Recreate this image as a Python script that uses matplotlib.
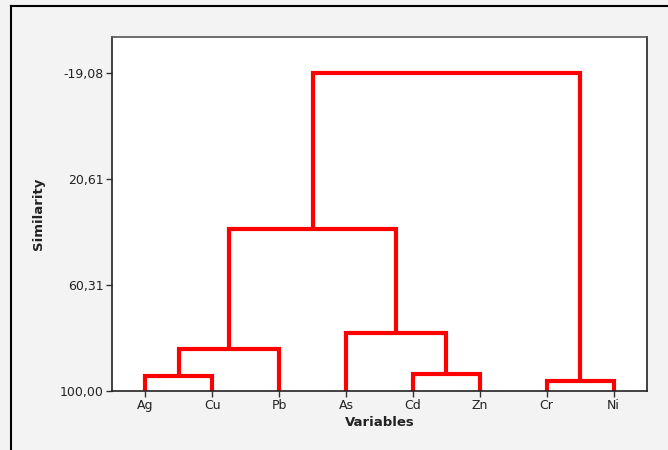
import matplotlib
matplotlib.use("Agg")
import matplotlib.pyplot as plt
from matplotlib.lines import Line2D

# Data
leaves = ["Ag", "Cu", "Pb", "As", "Cd", "Zn", "Cr", "Ni"]
# merges: (child_a, child_b, similarity); new nodes numbered from len(leaves)
merge_a = [6, 0, 4, 9, 3, 11, 13]
merge_b = [7, 1, 5, 2, 10, 12, 8]
merge_h = [96.14, 94.27, 93.80, 84.27, 78.40, 39.34, -19.08]
ytick_vals = [-19.08, 20.61, 60.31, 100.00]
ytick_labels = ["-19,08", "20,61", "60,31", "100,00"]

fig = plt.figure(figsize=(6.68, 4.5), dpi=100)
fig.patch.set_facecolor("#f3f3f3")
# outer frame lines (left and top)
fig.add_artist(Line2D([11/668, 11/668], [0, 1 - 6/450], transform=fig.transFigure, color="black", lw=1.5))
fig.add_artist(Line2D([11/668, 1], [1 - 6/450, 1 - 6/450], transform=fig.transFigure, color="black", lw=1.5))

ax = fig.add_axes([112/668, 59/450, 535/668, 354/450])
ax.set_facecolor("white")

pos = {i: float(i + 1) for i in range(len(leaves))}
height = {i: 100.0 for i in range(len(leaves))}
for k, (a, b, h) in enumerate(zip(merge_a, merge_b, merge_h)):
    node = len(leaves) + k
    xa, xb = pos[a], pos[b]
    ax.plot([xa, xa, xb, xb], [height[a], h, h, height[b]], color="#ff0000", lw=3.0,
            solid_joinstyle="miter", solid_capstyle="butt")
    pos[node] = (xa + xb) / 2
    height[node] = h

ax.set_xlim(0.5, len(leaves) + 0.5)
ax.set_ylim(100.0, -32.5)
ax.set_xticks(range(1, len(leaves) + 1))
ax.set_xticklabels(leaves)
ax.set_yticks(ytick_vals)
ax.set_yticklabels(ytick_labels)
ax.tick_params(axis="both", direction="out", length=4, width=1, color="#333333",
               labelsize=9, labelcolor="#222222", pad=2)
for s in ax.spines.values():
    s.set_color("#222222")
    s.set_linewidth(1.2)
ax.spines["top"].set_color("#555555")

ax.set_xlabel("Variables", fontsize=9.5, fontweight="bold", color="#222222", labelpad=3)
ax.set_ylabel("Similarity", fontsize=9.5, fontweight="bold", color="#222222", labelpad=11)

fig.savefig("out.png", dpi=100, facecolor=fig.get_facecolor())
